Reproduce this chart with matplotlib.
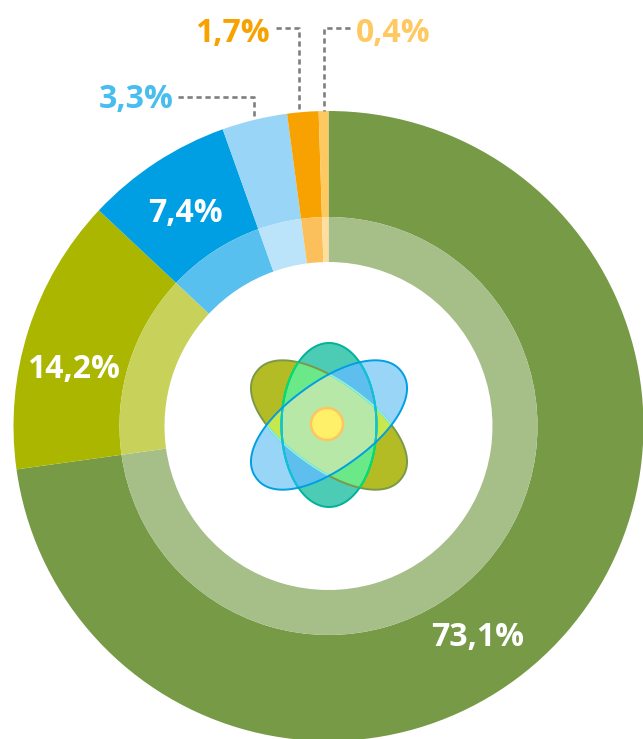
import numpy as np
import matplotlib
matplotlib.use('Agg')
import matplotlib.pyplot as plt
from matplotlib.patches import Circle, Polygon

# printed shares, and the slice sizes as they are actually drawn in the picture
labels = ['73,1%', '14,2%', '7,4%', '3,3%', '1,7%', '0,4%']
drawn = [72.8, 14.2, 7.55, 3.35, 1.6, 0.5]
colors = ['#769a45', '#abb600', '#009fe3', '#98d5f6', '#f7a200', '#ffc962']
inner_colors = ['#a6be88', '#c8d15a', '#58c0ee', '#bbe3f9', '#fbc05c', '#ffdd9c']
label_colors = ['white', 'white', 'white', '#47bdf0', '#f7a200', '#ffc962']

W, H = 643, 739
cx, cy = 328.5, H - 426

fig = plt.figure(figsize=(W / 100, H / 100), dpi=100)
ax = fig.add_axes([0, 0, 1, 1])

# outer ring
ax.pie(drawn, colors=colors, startangle=90, counterclock=False, radius=315,
       center=(cx, cy), wedgeprops=dict(width=106, linewidth=0))
# inner pale ring
ax.pie(drawn, colors=inner_colors, startangle=90, counterclock=False, radius=209,
       center=(cx, cy), wedgeprops=dict(width=45, linewidth=0))

ax.set_xlim(0, W)
ax.set_ylim(0, H)
ax.set_aspect('equal')
ax.axis('off')

# labels
label_pos = [(478, 634), (73.5, 366), (185, 209), (136.5, 96), (232.5, 29), (393.5, 29)]
for t, c, (x, y) in zip(labels, label_colors, label_pos):
    ax.text(x, H - y, t, color=c, ha='center', va='center_baseline',
            family='Open Sans', weight='bold', fontsize=23)

# leader lines
leaders = [([178, 254, 254], [97, 97, 119]),
           ([276, 299, 299], [28, 28, 111]),
           ([350, 324, 324], [28, 28, 111])]
for xs, ys in leaders:
    ax.plot(xs, [H - y for y in ys], color='#7f7f7f', lw=1.9, ls=(0, (2.0, 1.4)))

# atom logo in the hole
ax_x, ax_y = 329, H - 425

def blob(a, b, ang, n=2.0, **kw):
    # rounded oval, n > 2 gives the fuller ends of the tilted petals
    t = np.linspace(0, 2 * np.pi, 361)
    x = a * np.sign(np.cos(t)) * np.abs(np.cos(t)) ** (2 / n)
    y = b * np.sign(np.sin(t)) * np.abs(np.sin(t)) ** (2 / n)
    r = np.radians(ang)
    px = ax_x + x * np.cos(r) - y * np.sin(r)
    py = ax_y + x * np.sin(r) + y * np.cos(r)
    return Polygon(np.column_stack([px, py]), closed=True, **kw)

def overlap(p, q):
    # both shapes are convex and hold the centre, so sort the merged outline by angle
    pa, pb = p.get_xy(), q.get_xy()
    ina = pa[q.get_path().contains_points(pa)]
    inb = pb[p.get_path().contains_points(pb)]
    pts = np.vstack([ina, inb])
    order = np.argsort(np.arctan2(pts[:, 1] - ax_y, pts[:, 0] - ax_x))
    return pts[order]

tilt = 36
pa, pb, pn = 90, 43, 2.15
olive = blob(pa, pb, -tilt, pn, fc='#b3bb25', ec='none')
blue = blob(pa, pb, tilt, pn, fc='#98d5f6', ec='none')
teal = blob(47.5, 82, 0, fc='#4ccbb5', ec='none')
for p in (olive, blue, teal):
    ax.add_patch(p)

def clipped(p, q, color):
    poly = Polygon(overlap(p, q), closed=True, fc=color, ec='none')
    ax.add_patch(poly)
    return poly

clipped(olive, teal, '#6be888')
clipped(blue, teal, '#5ebfee')
clipped(olive, blue, '#c6e84d')
core = clipped(olive, blue, '#b8e8a8')
core.set_clip_path(teal)

# outlines on top
ax.add_patch(blob(pa, pb, -tilt, pn, fc='none', ec='#7a9a4a', lw=1.4))
edge = blob(pa, pb, -tilt, pn, fc='none', ec='#7ff5f0', lw=1.4)
ax.add_patch(edge)
edge.set_clip_path(blue)
ax.add_patch(blob(47.5, 82, 0, fc='none', ec='#00b398', lw=1.4))
edge2 = blob(47.5, 82, 0, fc='none', ec='#00e070', lw=1.4)
ax.add_patch(edge2)
edge2.set_clip_path(olive)
edge3 = blob(47.5, 82, 0, fc='none', ec='#10c0e0', lw=1.4)
ax.add_patch(edge3)
edge3.set_clip_path(blue)
ax.add_patch(blob(pa, pb, tilt, pn, fc='none', ec='#009fe3', lw=1.4))
ax.add_patch(Circle((327, H - 424), 16, fc='#fff06a', ec='#fcc75f', lw=1.8))

fig.savefig('out.png', dpi=100)
